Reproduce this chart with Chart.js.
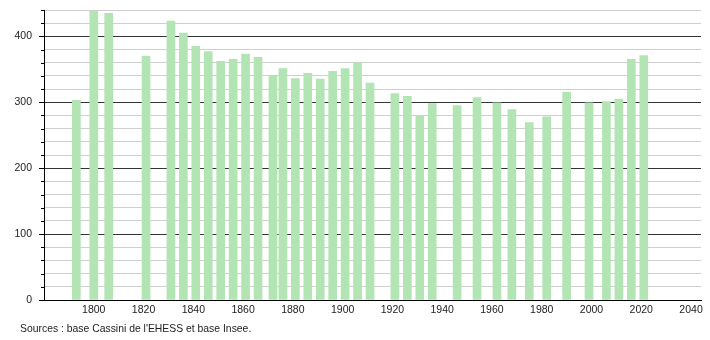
<!DOCTYPE html>
<html>
<head>
<meta charset="utf-8">
<script src="https://cdn.jsdelivr.net/npm/chart.js@4"></script>
<style>
	body { margin: 0; background: #fff; }
	#wrap { position: relative; width: 710px; height: 340px; }
	#source {
		position: absolute; left: 20px; top: 323px;
		font: 10.4px "Liberation Sans", Arial, sans-serif; color: #222;
	}
</style>
</head>
<body>
<div id="wrap">
	<canvas id="chart" width="710" height="340"></canvas>
	<div id="source">Sources : base Cassini de l'EHESS et base Insee.</div>
</div>
<script>
/* global Chart */
const years = [1793, 1800, 1806, 1821, 1831, 1836, 1841, 1846, 1851, 1856, 1861, 1866,
	1872, 1876, 1881, 1886, 1891, 1896, 1901, 1906, 1911, 1921, 1926, 1931, 1936,
	1946, 1954, 1962, 1968, 1975, 1982, 1990, 1999, 2006, 2011, 2016, 2021];
const population = [303, 438, 435, 370, 423, 405, 385, 377, 362, 365, 373, 368,
	340, 351, 336, 344, 335, 347, 351, 360, 329, 313, 309, 279, 298,
	295, 307, 299, 289, 269, 278, 315, 299, 301, 305, 365, 371];
const xTicks = [1800, 1820, 1840, 1860, 1880, 1900, 1920, 1940, 1960, 1980, 2000, 2020, 2040];
const yTicks = [0, 100, 200, 300, 400];

const font = { family: '"Liberation Sans", Arial, sans-serif', size: 10.5 };

// petites graduations de l'axe vertical
const yTickMarks = {
	id: 'yTickMarks',
	afterDraw(chart) {
		const { ctx } = chart;
		const y = chart.scales.y;
		ctx.save();
		ctx.strokeStyle = '#000';
		ctx.lineWidth = 1;
		y.ticks.forEach((t) => {
			const py = Math.round(y.getPixelForValue(t.value)) + 0.5;
			const len = yTicks.includes(t.value) ? 5 : 3;
			ctx.beginPath();
			ctx.moveTo(y.right - len, py);
			ctx.lineTo(y.right, py);
			ctx.stroke();
		});
		ctx.restore();
	}
};

const canvas = document.getElementById('chart');

const graph = new Chart(canvas, {
	type: 'bar',
	data: {
		datasets: [{
			data: years.map((yr, i) => ({ x: yr, y: population[i] })),
			backgroundColor: 'rgb(178, 228, 180)',
			borderWidth: 0,
			barThickness: 8
		}]
	},
	options: {
		responsive: false,
		animation: false,
		layout: { padding: { top: 10, right: 9, left: 0, bottom: 0 } },
		plugins: { legend: { display: false }, tooltip: { enabled: false } },
		scales: {
			x: {
				type: 'linear',
				min: 1780,
				max: 2044,
				offset: false,
				grid: { display: false, drawTicks: false },
				border: { display: true, color: '#000', width: 1 },
				ticks: {
					stepSize: 20, color: '#222', font: font, padding: 4, maxRotation: 0, autoSkip: false,
					callback: (v) => String(v)
				},
				afterBuildTicks: (scale) => {
					scale.ticks = xTicks.map((v) => ({ value: v }));
				},
				afterFit: (scale) => {
					scale.height = 40;
					scale.paddingLeft = 0;
					scale.paddingRight = 0;
				}
			},
			y: {
				min: 0,
				max: 440,
				grid: {
					drawTicks: false,
					color: (c) => (yTicks.includes(c.tick.value) ? '#333' : '#cfcfcf'),
					lineWidth: 1
				},
				border: { display: true, color: '#000', width: 1 },
				ticks: {
					stepSize: 20,
					autoSkip: false,
					color: '#222',
					font: font,
					padding: 12,
					callback: (v) => (yTicks.includes(v) ? String(v) : '')
				},
				afterFit: (scale) => {
					scale.width = 44;
					scale.paddingTop = 0;
					scale.paddingBottom = 0;
				}
			}
		}
	},
	plugins: [yTickMarks]
});
</script>
</body>
</html>
